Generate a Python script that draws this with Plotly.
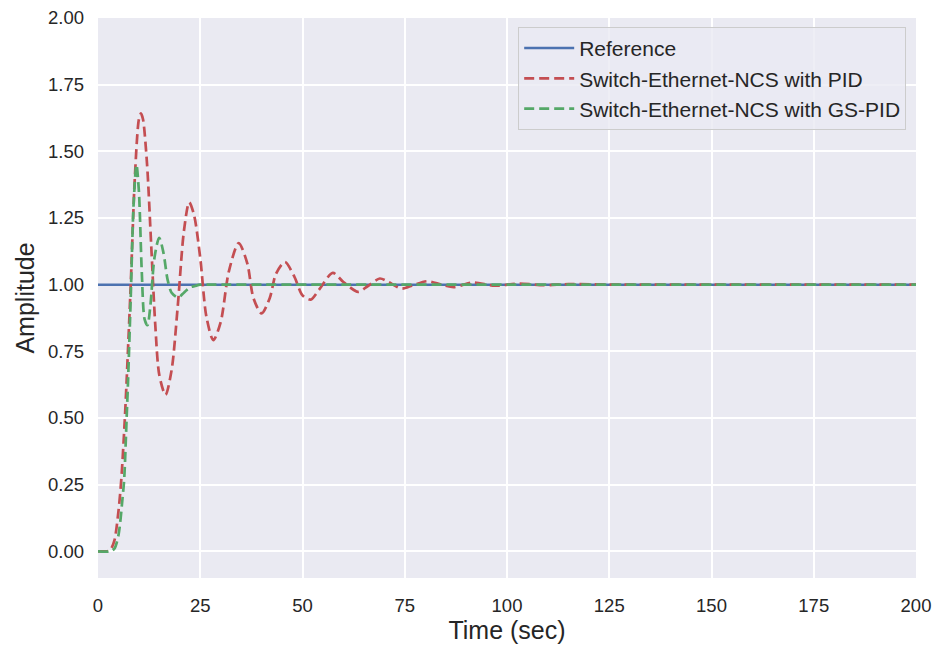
import plotly.graph_objects as go

# Reference signal
ref_t = [0, 200]
ref_y = [1.0, 1.0]

# Switch-Ethernet-NCS with PID
pid_t = [0, 2, 3, 4, 5, 5.7, 6.5, 7, 8, 9, 10, 10.5, 11, 12, 13, 14, 15, 16.5, 18, 19.5,
         21, 22.3, 23.5, 25, 26.5, 28.2, 30, 32, 34.4, 36.5, 38, 40, 42, 43.5, 45.7, 48,
         50, 52, 54, 57.4, 60, 63.6, 66, 68.9, 71, 74.2, 77, 80.5, 84, 87, 91.5, 97, 103,
         109, 115, 125, 140, 170, 200]
pid_y = [0, 0, 0.005, 0.04, 0.15, 0.27, 0.48, 0.64, 1.0, 1.4, 1.62, 1.642, 1.62, 1.45,
         1.15, 0.85, 0.66, 0.587, 0.68, 0.92, 1.2, 1.309, 1.26, 1.1, 0.88, 0.792, 0.86,
         1.05, 1.156, 1.08, 0.95, 0.892, 0.95, 1.04, 1.085, 1.03, 0.96, 0.944, 0.98, 1.044,
         1.01, 0.973, 0.995, 1.023, 1.01, 0.985, 0.998, 1.013, 1.0, 0.991, 1.008, 0.996,
         1.004, 0.998, 1.002, 1.0, 1.0, 1.0, 1.0]

# Switch-Ethernet-NCS with GS-PID
gs_t = [0, 3, 4, 5, 6, 6.4, 7, 7.35, 8, 8.7, 9.4, 10, 10.7, 11.4, 12.1, 12.8, 13.8, 14.95,
        16, 17, 18, 19.6, 21, 22.5, 23.7, 25, 28, 40, 100, 200]
gs_y = [0, 0, 0.01, 0.06, 0.2, 0.27, 0.5, 0.64, 0.95, 1.3, 1.45, 1.35, 1.05, 0.87, 0.848,
        0.92, 1.1, 1.176, 1.12, 1.02, 0.97, 0.952, 0.97, 0.99, 0.995, 1.0, 1.0, 1.0, 1.0, 1.0]

x_ticks = [0, 25, 50, 75, 100, 125, 150, 175, 200]
y_ticks = [0.0, 0.25, 0.5, 0.75, 1.0, 1.25, 1.5, 1.75, 2.0]

fig = go.Figure()
fig.add_trace(go.Scatter(x=ref_t, y=ref_y, mode="lines", name="Reference",
                         line=dict(color="#4C72B0", width=2.5)))
fig.add_trace(go.Scatter(x=pid_t, y=pid_y, mode="lines", name="Switch-Ethernet-NCS with PID",
                         line=dict(color="#C44E52", width=2.7, dash="10px,5px", shape="spline",
                                   smoothing=0.8)))
fig.add_trace(go.Scatter(x=gs_t, y=gs_y, mode="lines", name="Switch-Ethernet-NCS with GS-PID",
                         line=dict(color="#55A868", width=2.7, dash="10px,5px", shape="spline",
                                   smoothing=0.8)))

font_family = "Liberation Sans, Arial, sans-serif"
fig.update_layout(
    width=936, height=650,
    margin=dict(l=98, r=20, t=18, b=72),
    paper_bgcolor="white",
    plot_bgcolor="#EAEAF2",
    font=dict(family=font_family, color="#262626", size=18.5),
    legend=dict(x=0.988, y=0.984, xanchor="right", yanchor="top",
                bgcolor="rgba(234,234,242,0.8)", bordercolor="#CCCCCC", borderwidth=1,
                font=dict(size=21, color="#262626"), tracegroupgap=0, itemwidth=50),
    xaxis=dict(range=[0, 200], tickvals=x_ticks, ticktext=[str(v) for v in x_ticks],
               showgrid=True, gridcolor="white", gridwidth=1.6, zeroline=False,
               showline=False, ticks="", ticklabelstandoff=14, automargin=False,
               title=dict(text="Time (sec)", font=dict(size=25), standoff=6),
               tickfont=dict(size=18.5)),
    yaxis=dict(range=[-0.1, 2.0], tickvals=y_ticks, ticktext=[f"{v:.2f}" for v in y_ticks],
               showgrid=True, gridcolor="white", gridwidth=1.6, zeroline=False,
               showline=False, ticks="", ticklabelstandoff=13, automargin=False,
               title=dict(text="Amplitude", font=dict(size=25), standoff=6),
               tickfont=dict(size=18.5)),
)

fig.write_html("out.html", config={"displayModeBar": False},
               post_script="document.body.style.margin='0';")
